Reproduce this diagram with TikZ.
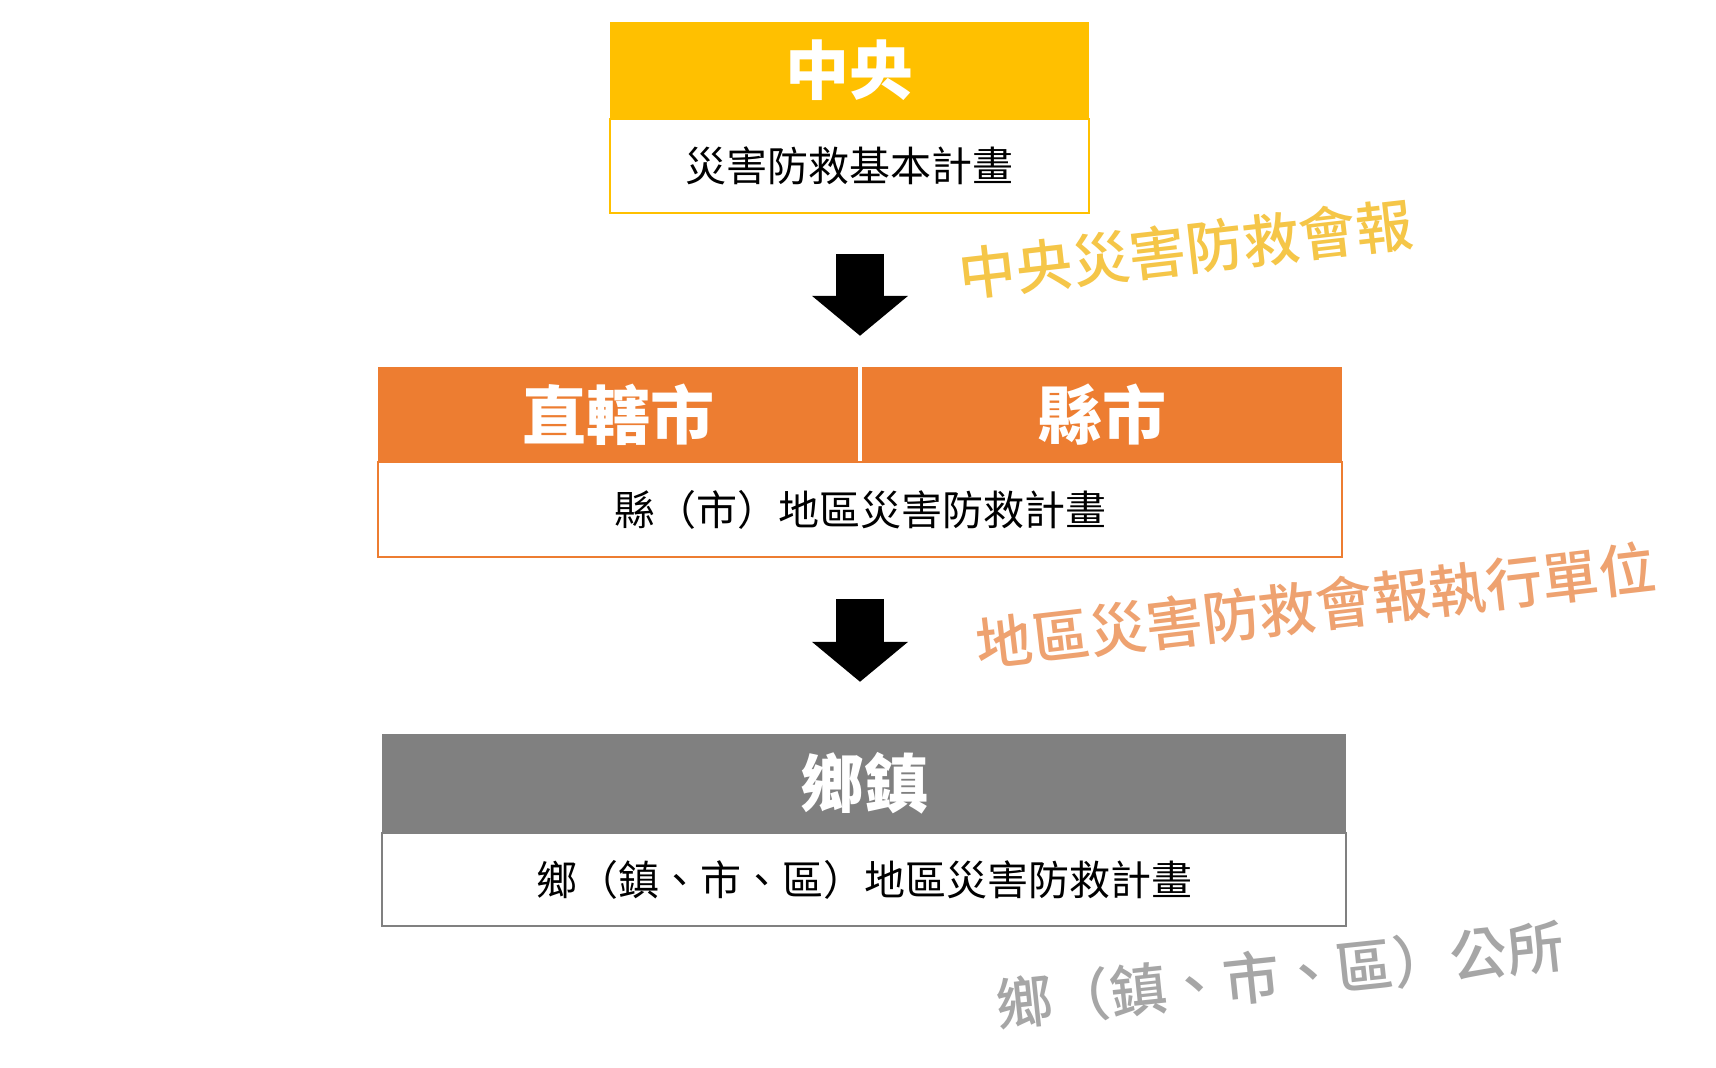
\documentclass[tikz,border=0pt]{standalone}
\usepackage{fontspec}
\setmainfont{Noto Sans CJK TC}
\newfontfamily\noteFont{Noto Sans CJK TC Medium}
\usetikzlibrary{arrows.meta,positioning}
\definecolor{planYellow}{RGB}{255,192,0}
\definecolor{planOrange}{RGB}{237,125,49}
\definecolor{planGray}{RGB}{128,128,128}
\definecolor{noteYellow}{RGB}{245,198,72}
\definecolor{noteOrange}{RGB}{238,162,112}
\definecolor{noteGray}{RGB}{166,166,166}
\tikzset{
  planHead/.style={fill=#1, text=white, font=\fontsize{64}{66}\selectfont\bfseries, inner sep=0pt, minimum height=96pt},
  planBody/.style={draw=#1, line width=1.6pt, fill=white, font=\fontsize{41}{44}\selectfont, inner sep=0pt, minimum height=94pt},
  planArrow/.style={-{Triangle[length=40pt,width=94pt]}, line width=48pt},
  planNote/.style={text=#1, font=\fontsize{57}{60}\selectfont\noteFont, inner sep=0pt}
}
\begin{document}
\begin{tikzpicture}[x=1pt, y=-1pt]
      \useasboundingbox[fill=white] (0,0) rectangle (1716,1068);
      \node[planHead=planYellow, minimum width=479pt] (centralHead) at (849.5,70) {中央};
      \node[planBody=planYellow, minimum width=479pt, below=0pt of centralHead] (centralBody) {災害防救基本計畫};
      \node[planHead=planOrange, minimum width=480pt, minimum height=95pt] (cityHead) at (618,414.5) {直轄市};
      \node[planHead=planOrange, minimum width=480pt, minimum height=95pt, right=4pt of cityHead] (countyHead) {縣市};
      \node[planBody=planOrange, minimum width=964pt, minimum height=95pt] (countyBody) at (860,509.5) {縣（市）地區災害防救計畫};
      \node[planHead=planGray, minimum width=964pt, minimum height=98pt] (townHead) at (864,783) {鄉鎮};
      \node[planBody=planGray, minimum width=964pt, minimum height=93pt, below=0pt of townHead] (townBody) {鄉（鎮、市、區）地區災害防救計畫};
      \draw[planArrow] ([yshift=-40pt]centralBody.south -| countyBody.north) -- ([yshift=31pt]cityHead.north -| countyBody.north);
      \draw[planArrow] ([yshift=-41pt]countyBody.south) -- ([yshift=52pt]townHead.north -| countyBody.south);
      \node[planNote=noteYellow, rotate=6.5] (centralNote) at (1186,249) {中央災害防救會報};
      \node[planNote=noteOrange, rotate=6.6] (countyNote) at (1316,606) {地區災害防救會報執行單位};
      \node[planNote=noteGray, rotate=6] (townNote) at (1280,975) {鄉（鎮、市、區）公所};
    \end{tikzpicture}
\end{document}
